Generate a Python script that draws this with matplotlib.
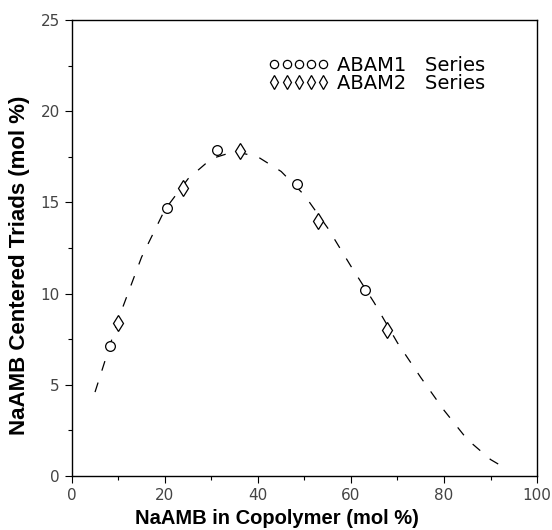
import matplotlib
matplotlib.use("Agg")
import matplotlib.pyplot as plt
from matplotlib.ticker import MultipleLocator

# ── Data ───────────────────────────────────────────────────────────────────
abam1_x = [8.2, 20.4, 31.2, 48.4, 63.0]
abam1_y = [7.1, 14.7, 17.9, 16.0, 10.2]

abam2_x = [9.9, 23.8, 36.1, 52.9, 67.7]
abam2_y = [8.4, 15.8, 17.8, 14.0, 8.0]

curve_x = [5, 8, 10, 15, 20, 25, 30, 35, 40, 45, 50, 55, 60, 65, 70, 75, 80, 85, 90, 93]
curve_y = [4.6, 7.0, 8.6, 12.0, 14.6, 16.3, 17.4, 17.8, 17.5, 16.7, 15.4, 13.6,
           11.5, 9.5, 7.3, 5.4, 3.6, 2.0, 0.9, 0.45]

labels = ["ABAM1   Series", "ABAM2   Series"]

plt.rcParams["font.family"] = ["DejaVu Sans"]

fig = plt.figure(figsize=(5.52, 5.30), dpi=100)
ax = fig.add_axes([0.130, 0.102, 0.843, 0.860])

ax.plot(curve_x, curve_y, color="black", lw=0.9, ls=(0, (8, 10)))
ax.plot(abam1_x, abam1_y, "o", mfc="white", mec="black", ms=7, mew=0.9,
        ls="none", label=labels[0])
ax.plot(abam2_x, abam2_y, "d", mfc="white", mec="black", ms=8.5, mew=0.9,
        ls="none", label=labels[1])

ax.set_xlim(0, 100)
ax.set_ylim(0, 25)
ax.xaxis.set_major_locator(MultipleLocator(20))
ax.xaxis.set_minor_locator(MultipleLocator(10))
ax.yaxis.set_major_locator(MultipleLocator(5))
ax.yaxis.set_minor_locator(MultipleLocator(2.5))
ax.tick_params(which="both", direction="out", top=False, right=False,
               labelsize=11, labelcolor="#444444", width=0.8)
ax.tick_params(which="major", length=5)
ax.tick_params(which="minor", length=3)
for s in ax.spines.values():
    s.set_linewidth(1.0)

bold = dict(family=["Liberation Sans", "DejaVu Sans"], fontweight="bold")
ax.set_xlabel("NaAMB in Copolymer (mol %)", fontsize=14.5, **bold)
ax.set_ylabel("NaAMB Centered Triads (mol %)", fontsize=16, **bold)
ax.xaxis.set_label_coords(0.441, -0.072)
ax.yaxis.set_label_coords(-0.090, 0.463)

ax.legend(loc="upper left", bbox_to_anchor=(0.423, 0.922), frameon=False,
          borderpad=0, borderaxespad=0, numpoints=5, handlelength=3.1,
          handletextpad=0.4, labelspacing=-0.05, prop={"size": 14},
          markerscale=0.85)

fig.savefig("out.png", dpi=100)
